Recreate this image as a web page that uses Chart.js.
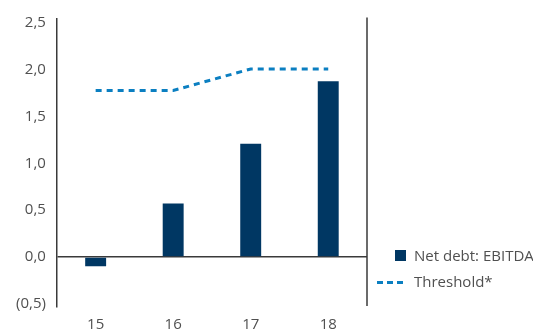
<!DOCTYPE html>
<html>
<head>
<meta charset="utf-8">
<script src="https://cdn.jsdelivr.net/npm/chart.js@4"></script>
<style>
    html, body { margin: 0; padding: 0; background: #fff; overflow: hidden; }
    #wrap { position: relative; width: 533px; height: 329px; overflow: hidden; }
    #chart { position: absolute; left: 0; top: 0; }
    .legend { position: absolute; left: 0; top: 0; font-family: "Open Sans", sans-serif; font-size: 15px; color: #505050; }
    .item { position: absolute; white-space: nowrap; }
    .swatch { position: absolute; }
    .dash { position: absolute; width: 6px; height: 3px; background: #0b7fc1; }
</style>
</head>
<body>
<div id="wrap">
    <canvas id="chart" width="533" height="350"></canvas>
    <div class="legend">
        <div class="swatch" style="left:395px; top:250px; width:11px; height:11px; background:#003763;"></div>
        <div class="item" style="left:414px; top:245px;">Net debt: EBITDA</div>
        <div class="dash" style="left:377px; top:281px;"></div>
        <div class="dash" style="left:387px; top:281px;"></div>
        <div class="dash" style="left:397px; top:281px;"></div>
        <div class="item" style="left:414px; top:271px;">Threshold*</div>
    </div>
</div>
<script>
// Chart data
const years = ['15', '16', '17', '18'];
const netDebtEbitda = [-0.1, 0.57, 1.21, 1.88];
const threshold = [1.78, 1.78, 2.01, 2.01];
const yTicks = [-0.5, 0, 0.5, 1.0, 1.5, 2.0, 2.5];

const textColor = '#505050';
const axisColor = '#3a3a3a';

function formatTick(v) {
    const s = Math.abs(v).toFixed(1).replace('.', ',');
    return v < 0 ? '(' + s + ')' : s;
}

// right-hand border line of the plot area
const rightBorder = {
    id: 'rightBorder',
    afterDraw(chart) {
        const { ctx, chartArea } = chart;
        ctx.save();
        ctx.strokeStyle = axisColor;
        ctx.lineWidth = 1.5;
        ctx.beginPath();
        ctx.moveTo(chartArea.right, chartArea.top - 1);
        ctx.lineTo(chartArea.right, chartArea.bottom - 1);
        ctx.stroke();
        ctx.restore();
    }
};

const ctx = document.getElementById('chart').getContext('2d');
new Chart(ctx, {
    data: {
        labels: years,
        datasets: [
            {
                type: 'line',
                label: 'Threshold*',
                data: threshold,
                borderColor: '#0b7fc1',
                borderWidth: 3,
                borderDash: [6, 5],
                pointRadius: 0,
                tension: 0,
                fill: false,
                order: 0
            },
            {
                type: 'bar',
                label: 'Net debt: EBITDA',
                data: netDebtEbitda,
                backgroundColor: '#003763',
                barPercentage: 0.27,
                categoryPercentage: 1,
                order: 1
            }
        ]
    },
    options: {
        responsive: false,
        animation: false,
        layout: { padding: { left: 5, right: 166, top: 16, bottom: 7 } },
        plugins: {
            legend: { display: false },
            tooltip: { enabled: false }
        },
        scales: {
            x: {
                offset: true,
                grid: { display: false, drawTicks: false },
                border: { display: false },
                ticks: {
                    color: textColor,
                    padding: 9,
                    font: { family: 'Open Sans', size: 15 }
                }
            },
            y: {
                min: -0.536,
                max: 2.55,
                afterBuildTicks: (scale) => {
                    scale.ticks = yTicks.map(v => ({ value: v }));
                },
                grid: {
                    drawTicks: false,
                    lineWidth: 1.5,
                    color: (c) => (c.tick && c.tick.value === 0 ? axisColor : 'rgba(0,0,0,0)')
                },
                border: { display: true, color: axisColor, width: 1.5 },
                ticks: {
                    color: textColor,
                    padding: 11,
                    font: { family: 'Open Sans', size: 15, lineHeight: 1 },
                    callback: (v) => formatTick(v)
                }
            }
        }
    },
    plugins: [rightBorder]
});
</script>
</body>
</html>
